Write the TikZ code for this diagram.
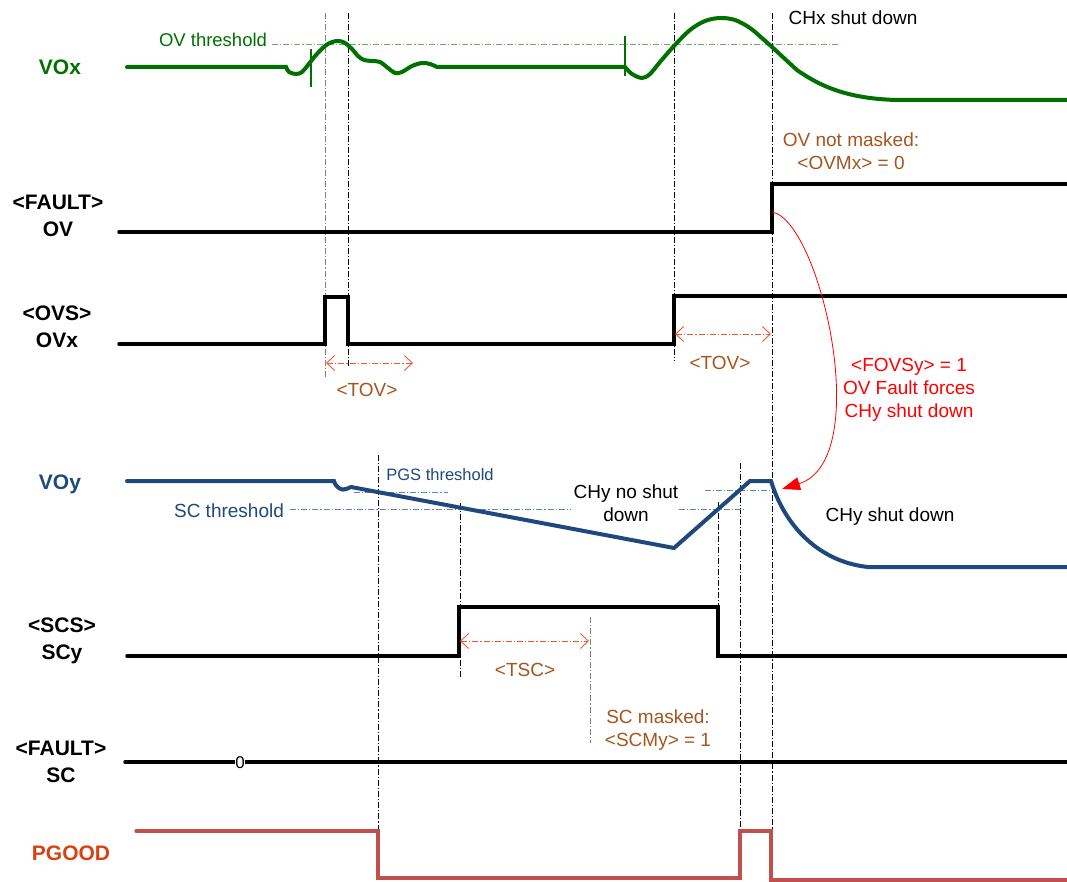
\documentclass[tikz,border=0pt]{standalone}
\usepackage{fontspec}
\setmainfont{Liberation Sans}
\usetikzlibrary{arrows.meta}
\definecolor{vgreen}{RGB}{0,112,0}
\definecolor{thgreen}{RGB}{110,170,110}
\definecolor{vblue}{RGB}{31,73,125}
\definecolor{thblue}{RGB}{100,130,180}
\definecolor{tbrown}{RGB}{165,85,30}
\definecolor{tovred}{RGB}{235,90,50}
\definecolor{pgline}{RGB}{192,80,77}
\definecolor{pglabel}{RGB}{215,65,20}
\tikzset{
  sig/.style={line width=3.5pt, line cap=round, line join=miter},
  vline/.style={line width=0.8pt, dash pattern=on 6pt off 2pt on 1.2pt off 2pt},
  thline/.style={line width=1pt, dash pattern=on 6pt off 2pt on 1.2pt off 2pt},
  lbl/.style={font=\fontsize{21}{27}\selectfont\bfseries, align=center, inner sep=0pt},
  txt/.style={font=\fontsize{19}{23}\selectfont, align=center, inner sep=0pt},
  tarrow/.style={tovred, line width=0.9pt, dash pattern=on 6pt off 2pt on 1.2pt off 2pt,
     {Straight Barb[length=8pt,width=15pt]}-{Straight Barb[length=8pt,width=15pt]}},
}
\begin{document}
\begin{tikzpicture}[x=1pt,y=-1pt]
\useasboundingbox (0,0) rectangle (1067,882);
\fill[white] (0,0) rectangle (1067,882);

% ---------- vertical markers ----------
\draw[vline, gray] (325,13) -- (325,378);
\draw[vline] (348,13) -- (348,367);
\draw[vline] (674,13) -- (674,361);
\draw[vline] (772,13) -- (772,831);
\draw[vline] (378,455) -- (378,831);
\draw[vline] (460,503) -- (460,678);
\draw[vline, gray] (590,617) -- (590,743);
\draw[vline] (718,502) -- (718,607);
\draw[vline] (740,463) -- (740,831);

% ---------- labels ----------
\node[lbl, vgreen] (lvox) at (60,67) {VOx};
\node[lbl] (lfov) at (58,216) {<FAULT>\\OV};
\node[lbl] (lovs) at (57,327) {<OVS>\\OVx};
\node[lbl, vblue] (lvoy) at (60,484) {VOy};
\node[lbl] (lscs) at (62,641) {<SCS>\\SCy};
\node[lbl] (lfsc) at (61,762) {<FAULT>\\SC};
\node[lbl, pglabel] (lpg) at (71,853) {PGOOD};

% ---------- VOx ----------
\draw[thline, thgreen] (272,45) -- (838,45);
\node[txt, vgreen, font=\fontsize{18.5}{22}\selectfont] (ovth) at (213,40) {OV threshold};
\draw[sig, vgreen, line width=4pt] (127,67) -- (286,67)
  -- plot[smooth, tension=0.55] coordinates {(286,67) (289,72) (296,74) (302,72) (308,65) (316,55) (325,46) (332,42) (339,41) (345,43) (352,49) (358,56) (364,60) (372,61) (380,62) (388,68) (395,73) (402,72) (412,66) (422,63) (430,64) (437,67)}
  -- (625,67)
  -- plot[smooth, tension=0.55] coordinates {(625,67) (632,74) (642,78) (650,74) (660,62) (674,46) (690,30) (705,21) (720,18) (735,20) (750,28) (763,39) (772,47) (785,59) (797,70) (803,74)}
  .. controls (830,92) and (860,99) .. (897,100) -- (1067,100);
\draw[vgreen, line width=2pt] (311,49) -- (311,87);
\draw[vgreen, line width=2pt] (625,36) -- (625,76);
\node[txt] (chx) at (853,18) {CHx shut down};

% ---------- FAULT OV ----------
\draw[sig] (119,232) -- (772,232) -- (772,184) -- (1067,184);
\node[txt, tbrown] (ovnm) at (851,151) {OV not masked:\\<OVMx> = 0};
\coordinate (fovstart) at (772,212);

% ---------- OVx ----------
\draw[sig] (119,344) -- (325,344) -- (325,297) -- (348,297) -- (348,344) -- (674,344) -- (674,296) -- (1067,296);
\coordinate (tov1a) at (326,363);
\coordinate (tov1b) at (413,363);
\draw[tarrow] (tov1a) -- (tov1b);
\node[txt, tbrown] (tov1) at (367,390) {<TOV>};
\coordinate (tov2a) at (675,334);
\coordinate (tov2b) at (771,334);
\draw[tarrow] (tov2a) -- (tov2b);
\node[txt, tbrown] (tov2) at (720,363) {<TOV>};

% ---------- red arrow ----------
\node[txt, red] (fovs) at (909,390) {<FOVSy> = 1\\OV Fault forces\\CHy shut down};
\coordinate (fovend) at (782,489);
\draw[red, line width=0.8pt, -{Triangle[length=18pt,width=13pt]}] (fovstart) .. controls (820,220) and (875,460) .. (fovend);

% ---------- VOy ----------
\draw[thline, thblue] (354,492) -- (448,492);
\draw[thline, thblue] (290,509) -- (571,509);
\draw[thline, thblue] (679,509) -- (745,509);
\draw[thline, thblue] (705,490) -- (770,490);
\node[txt, vblue] (scth) at (229,511) {SC threshold};
\node[txt, vblue, font=\fontsize{16.5}{20}\selectfont] (pgsth) at (440,475) {PGS threshold};
\node[txt] (chyno) at (626,503) {CHy no shut\\down};
\draw[sig, vblue, line width=4pt] (127,481) -- (334,481)
  .. controls (336,488) and (342,491) .. (346,489) -- (351,487)
  -- (674,548) -- (750,481) -- (771,481)
  .. controls (785,527) and (820,562) .. (868,567) -- (1067,567);
\node[txt] (chysd) at (890,517) {CHy shut down};

% ---------- SCy ----------
\draw[sig] (127,656) -- (459,656) -- (459,607) -- (718,607) -- (718,656) -- (1067,656);
\coordinate (tsca) at (460,641);
\coordinate (tscb) at (589,641);
\draw[tarrow] (tsca) -- (tscb);
\node[txt, tbrown] (tsc) at (525,670) {<TSC>};
\node[txt, tbrown] (scm) at (658,730) {SC masked:\\<SCMy> = 1};

% ---------- FAULT SC ----------
\draw[sig] (125,762) -- (1067,762);
\node[fill=white, inner sep=0.3pt, font=\fontsize{17}{17}\selectfont] (zero) at (240,763) {0};

% ---------- PGOOD ----------
\draw[pgline, line width=3.3pt, line cap=round, line join=miter] (136,831) -- (378,831) -- (378,878) -- (740,878) -- (740,831) -- (771,831) -- (771,880) -- (1067,880);
\end{tikzpicture}
\end{document}
